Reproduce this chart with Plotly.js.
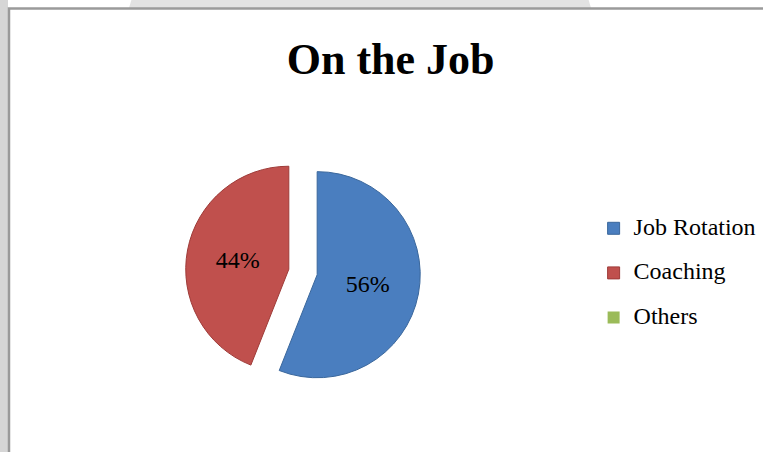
<!DOCTYPE html>
<html>
<head>
<meta charset="utf-8">
<script src="https://cdn.plot.ly/plotly-3.0.1.min.js"></script>
<style>html,body{margin:0;padding:0;background:#fff;}#chart{width:763px;height:452px;}</style>
</head>
<body>
<div id="chart"></div>
<script>
const chartTitle = "On the Job";
const categories = ["Job Rotation", "Coaching", "Others"];
const shares = [56, 44, 0];
const sliceColors = ["#4A7EBF", "#C0504D", "#9BBB59"];
const sliceLines = ["#3A679C", "#9E3B38", "rgba(0,0,0,0)"];
const sliceLineWidths = [1, 1, 0];
const pulls = [0.14, 0.14, 0];

// legend labels: larger glyphs, extra blank line for Excel-like item spacing
const legendLabels = categories.map(c => '<span style="font-size:24px">' + c + '</span><br> ');

const trace = {
  type: "pie",
  labels: legendLabels,
  values: shares,
  sort: false,
  direction: "clockwise",
  rotation: 0,
  pull: pulls,
  marker: { colors: sliceColors, line: { color: sliceLines, width: sliceLineWidths } },
  textinfo: "percent",
  texttemplate: "%{percent:.0%}",
  textposition: "inside",
  insidetextorientation: "horizontal",
  textfont: { family: "Liberation Serif, Times New Roman, serif", size: 24, color: "#000" },
  domain: { x: [0.2431, 0.5511], y: [0.1383, 0.6582] },
  hoverinfo: "skip"
};

const layout = {
  width: 763, height: 452,
  margin: { l: 0, r: 0, t: 0, b: 0 },
  paper_bgcolor: "#ffffff",
  showlegend: true,
  title: {
    text: "<b>" + chartTitle + "</b>",
    font: { family: "Liberation Serif, Times New Roman, serif", size: 44, color: "#000" },
    x: 0.512, xanchor: "center",
    y: 1 - 59 / 452, yanchor: "middle", yref: "container"
  },
  legend: {
    x: 0.778, xanchor: "left",
    y: 0.373, yanchor: "middle",
    font: { family: "Liberation Serif, Times New Roman, serif", size: 16, color: "#000" },
    valign: "top",
    itemwidth: 30,
    bgcolor: "rgba(0,0,0,0)",
    traceorder: "normal"
  },
  shapes: [
    { type: "rect", xref: "paper", yref: "paper", x0: 0, x1: 8 / 763, y0: 0, y1: 1,
      fillcolor: "#d6d6d6", line: { width: 0 }, layer: "below" },
    { type: "circle", xref: "paper", yref: "paper", x0: 120 / 763, x1: 600 / 763, y0: 1 - 300 / 452, y1: 1 + 160 / 452,
      fillcolor: "#e2e2e2", line: { width: 0 }, layer: "below" },
    { type: "rect", xref: "paper", yref: "paper", x0: 9 / 763, x1: 1.01, y0: -0.01, y1: 1 - 8.5 / 452,
      fillcolor: "#ffffff", line: { color: "#9a9a9a", width: 2.5 }, layer: "below" }
  ]
};

Plotly.newPlot("chart", [trace], layout, { displayModeBar: false, staticPlot: true });
</script>
</body>
</html>
